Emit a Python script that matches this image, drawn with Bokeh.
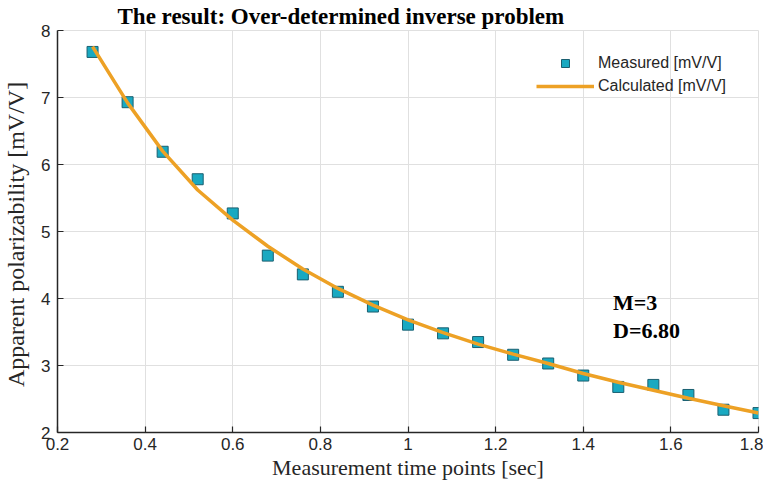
from bokeh.plotting import figure
from bokeh.models import Range1d, FixedTicker, Legend, LegendItem, Label, Title
from bokeh.embed import file_html
from bokeh.resources import INLINE

# ---- data ----
time_s = [0.28, 0.36, 0.44, 0.52, 0.60, 0.68, 0.76, 0.84, 0.92, 1.00,
          1.08, 1.16, 1.24, 1.32, 1.40, 1.48, 1.56, 1.64, 1.72, 1.80]
measured = [7.68, 6.93, 6.19, 5.78, 5.27, 4.64, 4.36, 4.10, 3.88, 3.61,
            3.48, 3.35, 3.16, 3.03, 2.85, 2.68, 2.71, 2.56, 2.34, 2.29]
calculated = [7.76, 6.92, 6.20, 5.62, 5.17, 4.78, 4.44, 4.15, 3.90, 3.68,
              3.49, 3.32, 3.17, 3.03, 2.88, 2.75, 2.63, 2.51, 2.40, 2.29]
x_ticks = [0.2, 0.4, 0.6, 0.8, 1.0, 1.2, 1.4, 1.6, 1.8]
x_tick_labels = ["0.2", "0.4", "0.6", "0.8", "1", "1.2", "1.4", "1.6", "1.8"]
y_ticks = [2, 3, 4, 5, 6, 7, 8]

TXT = "#262626"
GRID = "#E0E0E0"

p = figure(frame_width=701, frame_height=402, output_backend="svg", toolbar_location=None,
           x_range=Range1d(0.2, 1.8), y_range=Range1d(2, 8),
           min_border_left=49, min_border_right=5, min_border_top=23, min_border_bottom=51,
           background_fill_color="white", border_fill_color="white")

p.title = Title(text="The result: Over-determined inverse problem", align="left", offset=60,
                text_font="Liberation Serif", text_font_size="23px", text_font_style="bold",
                text_color="black", standoff=3)

sc = p.scatter(time_s, measured, marker="square", size=11, fill_color="#19A9C1",
               line_color="#1A5F70", line_width=1)
ln = p.line(time_s, calculated, line_color="#EDA125", line_width=3.5)

legend = Legend(items=[LegendItem(label="Measured [mV/V]", renderers=[sc]),
                       LegendItem(label="Calculated [mV/V]", renderers=[ln])],
                location=(479, 336), glyph_width=58, glyph_height=20, spacing=3,
                padding=0, margin=0, border_line_alpha=0, background_fill_alpha=0,
                label_text_font="Liberation Sans", label_text_font_size="16px",
                label_text_color=TXT, label_standoff=4)
p.add_layout(legend, "center")

for ax in (p.xaxis, p.yaxis):
    ax.major_tick_in = 6
    ax.major_tick_out = 0
    ax.minor_tick_line_color = None
    ax.axis_line_color = TXT
    ax.axis_line_width = 1.5
    ax.major_tick_line_color = TXT
    ax.major_tick_line_width = 1.2
    ax.major_label_text_font = "Liberation Sans"
    ax.major_label_text_font_size = "17px"
    ax.major_label_text_color = TXT
    ax.axis_label_text_font = "Liberation Serif"
    ax.axis_label_text_font_style = "normal"
    ax.axis_label_text_color = TXT

p.xaxis.ticker = FixedTicker(ticks=x_ticks)
p.xaxis.major_label_overrides = dict(zip(x_ticks, x_tick_labels))
p.xaxis.major_label_standoff = 5
p.xaxis.axis_label = "Measurement time points [sec]"
p.xaxis.axis_label_text_font_size = "22px"
p.xaxis.axis_label_standoff = 2

p.yaxis.ticker = FixedTicker(ticks=y_ticks)
p.yaxis.major_label_standoff = 7
p.yaxis.axis_label = "Apparent polarizability  [mV/V]"
p.yaxis.axis_label_text_font_size = "24px"
p.yaxis.axis_label_standoff = 9

p.grid.grid_line_color = GRID
p.grid.grid_line_width = 1
p.outline_line_color = GRID

p.add_layout(Label(x=1.468, y=3.94, text="M=3", text_font="Liberation Serif",
                   text_font_size="22px", text_font_style="bold", text_color="black",
                   text_baseline="alphabetic"))
p.add_layout(Label(x=1.468, y=3.52, text="D=6.80", text_font="Liberation Serif",
                   text_font_size="22px", text_font_style="bold", text_color="black",
                   text_baseline="alphabetic"))

open("out.html", "w").write(file_html(p, INLINE))
